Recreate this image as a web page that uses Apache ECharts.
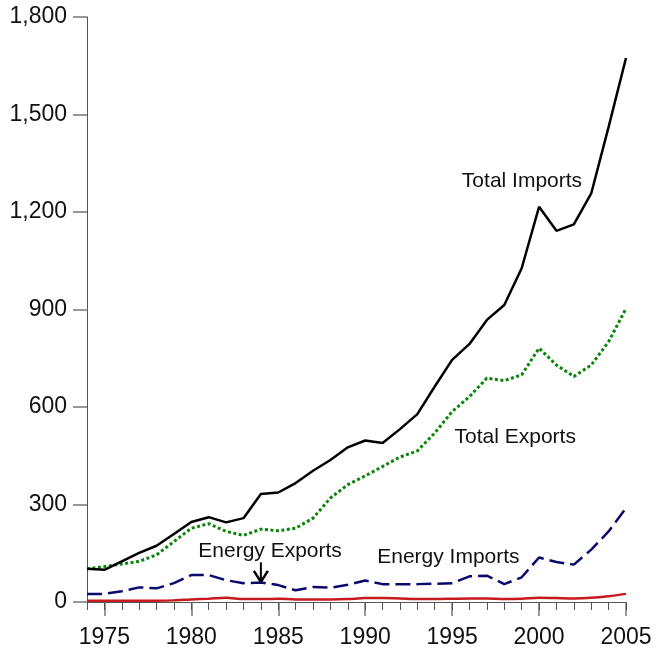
<!DOCTYPE html>
<html>
<head>
<meta charset="utf-8">
<script src="https://cdn.jsdelivr.net/npm/echarts@6/dist/echarts.min.js"></script>
<style>
html,body{margin:0;padding:0;background:#fff;}
#chart{width:658px;height:652px;}
</style>
</head>
<body>
<div id="chart"></div>
<script>
const years = [1974,1975,1976,1977,1978,1979,1980,1981,1982,1983,1984,1985,1986,1987,1988,1989,1990,1991,1992,1993,1994,1995,1996,1997,1998,1999,2000,2001,2002,2003,2004,2005];
const totalImports = [102,99,125,151,173,209,246,261,245,258,332,337,366,404,437,476,497,489,532,578,663,745,794,868,914,1027,1216,1142,1162,1257,1462,1674];
const totalExports = [102,109,117,125,145,186,227,241,217,205,224,219,227,258,320,361,388,417,446,465,520,586,632,689,681,699,781,729,694,729,801,903];
const energyImports = [25,25,33,45,42,58,83,83,67,58,60,52,36,46,44,53,66,55,55,55,56,58,79,81,55,76,137,123,115,161,217,289];
const energyExports = [4,4,4,4,4,5,8,10,13,9,9,10,8,8,8,9,12,12,11,9,9,10,11,11,9,10,13,12,11,13,18,25];
const majorYearTicks = [1975,1980,1985,1990,1995,2000,2005];
const yTicks = [0,300,600,900,1200,1500,1800];
const annotations = [
  {text:'Total Imports', x:1995.56, y:1295},
  {text:'Total Exports', x:1995.14, y:508},
  {text:'Energy Imports', x:1990.69, y:139},
  {text:'Energy Exports', x:1980.4, y:155}
];
const arrowFrom = [1984, 122];
const arrowTo = [1984, 62];

const FONT = '"Liberation Sans", Arial, sans-serif';
const pair = a => years.map((y,i)=>[y,a[i]]);

const chart = echarts.init(document.getElementById('chart'), null, {renderer:'canvas'});
chart.setOption({
  animation:false,
  backgroundColor:'#fff',
  grid:{left:87, right:32, top:17, bottom:50, containLabel:false},
  xAxis:[{
    type:'value', min:1974, max:2005,
    axisLine:{show:true, onZero:false, lineStyle:{color:'#555', width:1}},
    axisTick:{show:true, length:14, customValues:majorYearTicks, lineStyle:{color:'#777', width:1.5}},
    axisLabel:{show:true, customValues:majorYearTicks, margin:24, fontSize:23, fontFamily:FONT, color:'#111', formatter:v=>String(v)},
    splitLine:{show:false}
  },{
    type:'value', min:1974, max:2005, interval:1, position:'bottom', gridIndex:0,
    axisLine:{show:false},
    axisTick:{show:true, length:8, lineStyle:{color:'#555', width:1}},
    axisLabel:{show:false},
    splitLine:{show:false}
  }],
  yAxis:{
    type:'value', min:0, max:1800, interval:300,
    axisLine:{show:true, lineStyle:{color:'#555', width:1}},
    axisTick:{show:true, length:14, lineStyle:{color:'#777', width:1.5}},
    axisLabel:{margin:20, fontSize:23, fontFamily:FONT, color:'#111',
      formatter:v=>v.toLocaleString('en-US')},
    splitLine:{show:false}
  },
  series:[
    {name:'Energy Exports', type:'line', data:pair(energyExports), showSymbol:false, smooth:0.3,
      lineStyle:{color:'#c8191e', width:2.5}, z:3},
    {name:'Energy Imports', type:'line', data:pair(energyImports), showSymbol:false,
      lineStyle:{color:'#0a0a6e', width:2.5, type:[15,6]}, z:4},
    {name:'Total Exports', type:'line', data:pair(totalExports), showSymbol:false,
      lineStyle:{color:'#0a850a', width:3, type:[3,2.5]}, z:5},
    {name:'Total Imports', type:'line', data:pair(totalImports), showSymbol:false,
      lineStyle:{color:'#000', width:2.5}, z:6}
  ]
});

function drawGraphics(){
  const els = annotations.map(a=>{
    const p = chart.convertToPixel({gridIndex:0},[a.x,a.y]);
    return {type:'text', x:p[0], y:p[1], z:20,
      style:{text:a.text, fontSize:21, fontFamily:FONT, fill:'#111', textAlign:'left', textVerticalAlign:'middle'}};
  });
  const s = chart.convertToPixel({gridIndex:0}, arrowFrom);
  const t = chart.convertToPixel({gridIndex:0}, arrowTo);
  els.push({type:'polyline', z:21, shape:{points:[s,t]}, style:{stroke:'#000', lineWidth:2, fill:null}});
  els.push({type:'polyline', z:21, shape:{points:[[t[0]-7,t[1]-11],t,[t[0]+7,t[1]-11]]}, style:{stroke:'#000', lineWidth:2.5, fill:null}});
  chart.setOption({graphic:{elements:els}});
}
drawGraphics();
</script>
</body>
</html>
